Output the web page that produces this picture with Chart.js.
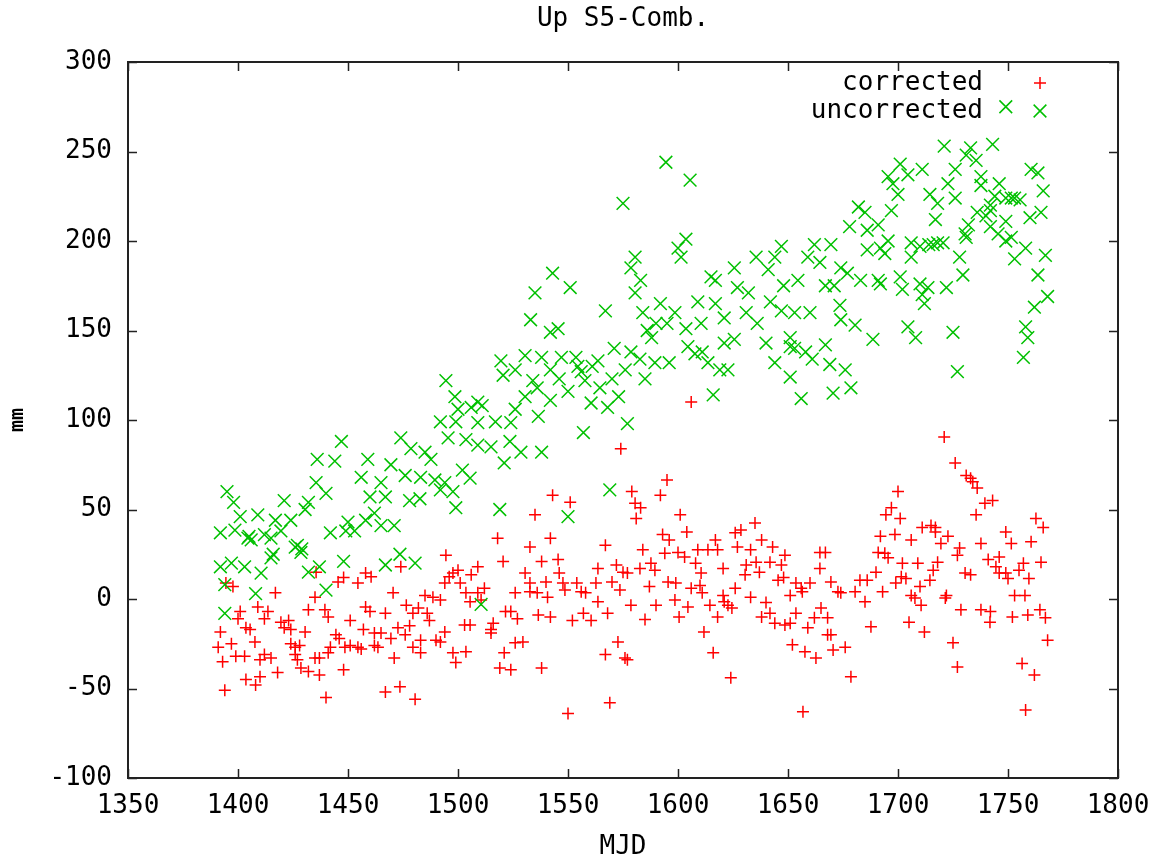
<!DOCTYPE html>
<html><head><meta charset="utf-8">
<script src="https://cdn.jsdelivr.net/npm/chart.js@4.4.1/dist/chart.umd.min.js"></script>
<style>html,body{margin:0;padding:0;background:#fff}canvas{display:block}</style>
</head><body>
<canvas id="c" width="1153" height="862"></canvas>
<script>
const chartTitle = 'Up S5-Comb.';
const xTitle = 'MJD';
const yTitle = 'mm';
const seriesNames = ['corrected', 'uncorrected'];
const xRange = [1350, 1800, 50];
const yRange = [-100, 300, 50];

// [MJD, mm]
const corrected = [
[1394.5,9],[1397.7,7],[1417,3.5],[1435.5,15],[1435,1],[1445.5,9.5],[1448,12],[1454.5,9],[1458,14.5],[1460.5,12.5],[1409,-4.5],[1413.6,-7],[1412,-11],[1401,-7],[1400,-11],[1403.6,-16],[1405.5,-17],[1392,-18.5],[1419.5,-13],[1421,-16],[1423,-12],[1424,-17],[1430.5,-18.5],[1432,-6],[1439.5,-6],[1441,-10],[1451,-12],[1458,-4.5],[1457,-17],[1460,-7],[1462,-19],[1444.5,-20],[1446,-22],[1397,-25],[1391,-27],[1407.7,-24],[1424,-25],[1426,-27],[1428,-26],[1442,-27],[1448.6,-27],[1451,-26],[1454.5,-27],[1462,-26],[1399,-32],[1403,-32],[1393,-35],[1412,-31],[1415,-33],[1410,-34],[1426,-31],[1427,-34],[1441,-30],[1435,-33],[1437,-33],[1428.6,-38.5],[1432,-40.5],[1437,-42.5],[1448,-39.5],[1418,-41],[1403.6,-45],[1410,-43.5],[1408,-48],[1394,-51],[1440,-55],[1456,-28],
[1574,84],[1543,58],[1551,54],[1535,47],[1518,34],[1542,34],[1532.7,29],[1567,30],[1494.5,24.5],[1520.5,21],[1538,21],[1545.5,22],[1572,19],[1474,18],[1500,16],[1509,18],[1497.7,14.5],[1496,12.5],[1506,13.5],[1530.5,14.5],[1546,14.5],[1563.6,17],[1575,15],[1494,9],[1501,9],[1512,6],[1532.7,9],[1540,9.5],[1547.7,9],[1554,9],[1562.7,9],[1570,9.5],[1573.6,5],[1470.5,3.5],[1485,2],[1488.6,1],[1492,-0.5],[1503.6,3.5],[1509,3.5],[1526,3.5],[1532.7,4],[1536,3.5],[1548.6,5],[1556,4],[1558,3.5],[1505.5,-1.5],[1510.5,-0.5],[1540.7,1],[1563.6,-1.5],[1476.5,-3.5],[1482,-5],[1467,-8],[1479.5,-8],[1486,-8],[1487,-12],[1521.6,-7],[1524,-7],[1527,-11],[1536.5,-9],[1542,-10],[1552,-12],[1557,-8],[1560.5,-12],[1568,-8],[1503,-14.5],[1505.5,-14.5],[1516,-13.5],[1515,-17],[1515,-19],[1472.7,-16],[1478,-15],[1494,-18.5],[1465,-19],[1469.5,-22],[1476,-20],[1483,-23],[1490,-23],[1492,-24],[1526,-24.5],[1529.5,-24],[1463.6,-27],[1479.5,-27],[1483,-30],[1497.7,-30],[1503.6,-29.5],[1521,-30],[1572.7,-24],[1567,-31],[1575.9,-33],[1471,-33],[1499,-35.5],[1519,-38.5],[1524,-39.5],[1538,-38.5],[1467,-52],[1473.6,-49],[1480.5,-56],[1550,-64],[1569,-58],
[1595,66.5],[1579,60],[1592,58],[1580.5,53.5],[1583,51],[1581,45],[1601,47],[1604,37.5],[1593,36],[1596,33],[1626,37],[1628.6,38.5],[1635,42.5],[1638,33],[1627,29],[1633,27.5],[1643,29],[1617,33],[1613.6,27.5],[1618,27.5],[1609,27.5],[1584,27.5],[1594,25.5],[1600,26],[1603,23.5],[1648.6,24.5],[1577,14.5],[1582.7,17],[1587.7,20],[1589.5,16],[1608,20],[1620.5,17],[1631,19],[1635.5,20.5],[1637,15],[1641.8,20.5],[1647,19],[1610.5,14.5],[1630.5,13.5],[1645.5,10.5],[1648,12],[1595.5,9.5],[1599,9],[1653.6,9],[1660,9],[1656,6],[1664.5,17],[1664.5,26],[1667,26],[1587,7],[1606,6],[1610,7.5],[1626,6],[1611,3.5],[1651,2],[1656.5,4],[1672.7,4],[1669.5,9.5],[1674,3.5],[1680.5,4],[1682.7,10.5],[1686,10.5],[1685,-1.5],[1578.6,-3.5],[1590,-3.5],[1598.6,-0.5],[1604.5,-4.5],[1614.5,-3.5],[1620.5,2],[1621,-1.5],[1622.7,-3.5],[1624.5,-5],[1633,1],[1640,-2],[1641.8,-8],[1638,-10],[1644,-13.5],[1648.6,-14.5],[1651,-13.5],[1653.6,-8],[1665,-5],[1662,-10.5],[1668,-10.5],[1659,-16],[1668,-20],[1669.5,-20],[1676,-27],[1670.5,-28.5],[1652,-25.5],[1657.7,-29.5],[1662.7,-33],[1585,-11.5],[1600.5,-10],[1618,-10],[1611.8,-18.5],[1616,-30],[1624,-44],[1577,-34],[1678.6,-43.5],[1656.8,-63],[1687.7,-15.5],[1606,110],
[1721,90.5],[1726,76],[1731,69],[1733,67.5],[1734,65.5],[1736,62],[1743,55],[1739.5,53.5],[1735.5,47],[1700,60],[1697,51],[1694.5,47],[1701,45],[1762.7,45],[1766,40],[1711,40],[1715,41],[1717,40],[1717,37.5],[1749,37.5],[1692,35],[1698.6,36],[1706,33],[1722.7,35],[1719.5,31],[1737.7,31],[1751.5,31],[1760.5,32],[1728,28.5],[1727,24.5],[1691,26],[1694,25.5],[1695.5,23],[1746,23.5],[1741,22],[1709,20],[1702,20],[1718,20.5],[1765,20.5],[1757,20],[1744.5,18],[1746,14.5],[1749,14.5],[1716,16],[1690,15],[1730.5,14.5],[1733,13.5],[1701.5,12.5],[1703.6,11.5],[1750,11.5],[1755,16],[1759.5,11.5],[1699,9],[1714.5,10.5],[1710,7],[1693,4],[1706,2],[1707.7,0.5],[1710.5,-3.5],[1722,2],[1721.5,0.5],[1753,2],[1757.7,2],[1728.6,-6],[1737.7,-6],[1742,-7],[1741.8,-13],[1752,-10],[1759,-9],[1764.5,-6],[1767,-10.5],[1705,-13],[1712,-18.5],[1725,-24.5],[1768,-23],[1727,-38],[1756.4,-36],[1762,-42.5],[1758,-62]
];

const uncorrected = [
[1447,88],[1436,78],[1444,77],[1395,60],[1398,54],[1401,46],[1409,47],[1392,37],[1398.6,38.5],[1404.5,34],[1412,36],[1417,44],[1421,55],[1424,44],[1432,54],[1435.5,65],[1440,59],[1430.5,50],[1419.5,38],[1415,34],[1406,33],[1426,29],[1428.6,26],[1415,23],[1392,18],[1397,20],[1403,18],[1410.5,14.5],[1394,8],[1408,3],[1432,15],[1437,18],[1440,5],[1448,21],[1394,-8],[1442,37],[1449,38],[1453,38],[1456,68],[1459,78],[1458,44],[1462,48],[1460,57],[1405,35],[1416,25],[1427,30],[1429,28],[1450,43],
[1575,221],[1543,182],[1535,171],[1551,174],[1567,161],[1533,156],[1542,149],[1545.5,151],[1519.5,133],[1530.5,136],[1538,135],[1547,135],[1553.6,135],[1563.6,133],[1571,140],[1520.5,125],[1526,128],[1534,122],[1542,128],[1546,123],[1554.5,130],[1561,130],[1557.7,122],[1564.5,118],[1570,123],[1576,128],[1530.5,113],[1536,118],[1550,116],[1560.5,109.5],[1568,107],[1573,113],[1542,111],[1536.5,102],[1526,106],[1494.5,122],[1498.6,113],[1500,106],[1506,107],[1509,110],[1511,108],[1556,127],
[1492,99],[1499,99],[1509,98.5],[1517,99],[1524,98.5],[1557,93],[1474,90],[1478.6,84],[1485,82],[1487.7,78],[1495.5,90],[1503.6,89],[1509,86],[1515,85],[1523.6,88],[1528.6,82],[1538,82],[1521,76],[1469.5,75],[1476,69],[1483,68],[1489.5,66.5],[1494,65],[1502,72],[1505.5,67.5],[1465,65],[1467,57],[1478,55],[1482.7,56],[1492,61],[1497.7,60],[1499,51],[1519,50],[1471,41],[1465,41],[1550,46],[1569,61],[1467,19],[1473.6,25],[1480.5,20],[1510.5,-3],
[1594.5,244],[1605.5,234],[1603.6,201],[1600,196],[1601.4,191],[1580.5,191],[1578.6,185],[1583,178],[1580.5,171],[1592,165],[1598.6,160],[1584,160],[1590,154],[1595,154],[1603.6,151],[1609,166],[1610.5,154],[1617,165],[1617,178],[1615,180],[1621,157],[1625.6,185],[1627,174],[1631,160],[1632,171],[1635.5,191],[1641,184],[1647,197],[1644,191],[1648,175],[1642,166],[1636,154],[1647,161],[1654.5,178],[1653,160],[1660,160],[1662,198],[1659,191],[1669.5,198],[1664.5,188],[1667,175],[1671,175],[1674,185],[1677,182],[1683,178],[1673.6,164],[1674,156],[1680.5,153],[1678,208],[1682,219],[1685,216],[1686,206],[1686,195],[1688.6,145],[1578.6,138],[1582.7,134],[1589.5,132],[1596,132],[1585,123],[1586,150],[1588,146],[1604.5,141],[1607.7,137],[1611,138],[1613.6,132],[1619,128],[1622.7,128],[1621,143],[1625.6,145],[1616,114],[1640,143],[1644,132],[1651,146],[1651,141],[1653,140],[1658,138],[1661,134],[1667,142],[1669,131],[1676,128],[1651,124],[1656,112],[1670.5,115],[1678.6,118],[1577,98],
[1721,253],[1733,252],[1743,254],[1731,248],[1735.5,245],[1701,243],[1711,240],[1726,240],[1760.5,240],[1763.6,238],[1695.5,236],[1704.5,237],[1737.7,236],[1697.7,232],[1722.7,232],[1737.7,231],[1746,232],[1766,228],[1700,226],[1714.5,226],[1726,224],[1718,221],[1744,225],[1751.5,224],[1755.5,223],[1742,220],[1742,217],[1697,217],[1736,216],[1740,214],[1760,213],[1765,216],[1717,212],[1691,209],[1732,209],[1749,211],[1742,208],[1730.5,204],[1745.5,204],[1731,202],[1751.5,202],[1695.5,200],[1706,199],[1710,197],[1716,198],[1720.5,199],[1718,199],[1714,198],[1692,196],[1694,193],[1749,200],[1758,196],[1753,190],[1767,192],[1706,191],[1728,191],[1763.6,181],[1729.5,181],[1691,178],[1692,176],[1701,180],[1702,173],[1710,176],[1713.6,174],[1711,170],[1722,174],[1768,169],[1762,163],[1712,165],[1704.5,152],[1708,146],[1725,149],[1758,152],[1759,146],[1757,135],[1727,127],[1749,275],[1753,224],[1749,224]
];

const RED = '#ff0000';
const GREEN = '#00c000';
const FONT = 'DejaVu Sans Mono';

const decor = {
  id: 'decor',
  afterDatasetsDraw(chart) {
    const {ctx, chartArea: a, scales: {x, y}} = chart;
    ctx.save();
    // title
    ctx.fillStyle = '#000';
    ctx.font = '26px "' + FONT + '"';
    ctx.textAlign = 'center';
    ctx.textBaseline = 'middle';
    ctx.fillText(chartTitle, (a.left + a.right) / 2, 19);
    // frame
    ctx.strokeStyle = '#222';
    ctx.lineWidth = 2;
    ctx.strokeRect(a.left, a.top, a.right - a.left, a.bottom - a.top);
    ctx.lineWidth = 1.5;
    ctx.beginPath();
    x.ticks.forEach(t => {
      const px = Math.round(x.getPixelForValue(t.value)) + 0.5;
      ctx.moveTo(px, a.bottom); ctx.lineTo(px, a.bottom - 9);
      ctx.moveTo(px, a.top); ctx.lineTo(px, a.top + 9);
    });
    y.ticks.forEach(t => {
      const py = Math.round(y.getPixelForValue(t.value)) + 0.5;
      ctx.moveTo(a.left, py); ctx.lineTo(a.left + 9, py);
      ctx.moveTo(a.right, py); ctx.lineTo(a.right - 9, py);
    });
    ctx.stroke();
    // legend
    ctx.font = '26px "' + FONT + '"';
    ctx.textAlign = 'right';
    ctx.fillStyle = '#000';
    const lx = a.right - 135, mx = a.right - 78;
    const rows = [[seriesNames[0], 83, RED, 'cross', 6], [seriesNames[1], 111, GREEN, 'crossRot', 9]];
    rows.forEach(([name, ly, col, st, r]) => {
      ctx.fillText(name, lx, ly);
      ctx.strokeStyle = col; ctx.lineWidth = 1.5;
      Chart.helpers.drawPoint(ctx, {pointStyle: st, radius: r, borderWidth: 1.5, rotation: 0}, mx, ly);
    });
    ctx.restore();
  }
};

new Chart(document.getElementById('c'), {
  type: 'scatter',
  data: {
    datasets: [
      {label: seriesNames[1], data: uncorrected.map(p => ({x: p[0], y: p[1]})), pointStyle: 'crossRot', radius: 9, borderColor: GREEN, backgroundColor: GREEN, borderWidth: 1.5},
      {label: seriesNames[0], data: corrected.map(p => ({x: p[0], y: p[1]})), pointStyle: 'cross', radius: 6, borderColor: RED, backgroundColor: RED, borderWidth: 1.5}
    ]
  },
  options: {
    responsive: false,
    animation: false,
    devicePixelRatio: 1,
    layout: {padding: {top: 62, right: 35, left: 0, bottom: 0}},
    plugins: {legend: {display: false}, tooltip: {enabled: false}, title: {display: false}},
    scales: {
      x: {
        type: 'linear', min: xRange[0], max: xRange[1],
        afterFit: s => { s.height = 84; s.paddingRight = 0; s.paddingLeft = 0; },
        grid: {display: false, drawTicks: false},
        border: {display: false},
        ticks: {stepSize: xRange[2], padding: 13, color: '#000', font: {family: FONT, size: 26}, maxRotation: 0, callback: v => String(v)},
        title: {display: true, text: xTitle, color: '#000', font: {family: FONT, size: 26, lineHeight: 1.0}, padding: {top: 0, bottom: 2}}
      },
      y: {
        type: 'linear', min: yRange[0], max: yRange[1],
        afterFit: s => { s.width = 128; s.paddingTop = 0; s.paddingBottom = 0; },
        grid: {display: false, drawTicks: false},
        border: {display: false},
        ticks: {stepSize: yRange[2], padding: 16, color: '#000', font: {family: FONT, size: 26}, callback: v => String(v)},
        title: {display: true, text: yTitle, color: '#000', font: {family: FONT, size: 20, weight: 'bold'}, padding: {top: 6, bottom: 6}}
      }
    }
  },
  plugins: [decor]
});
</script>
</body></html>
